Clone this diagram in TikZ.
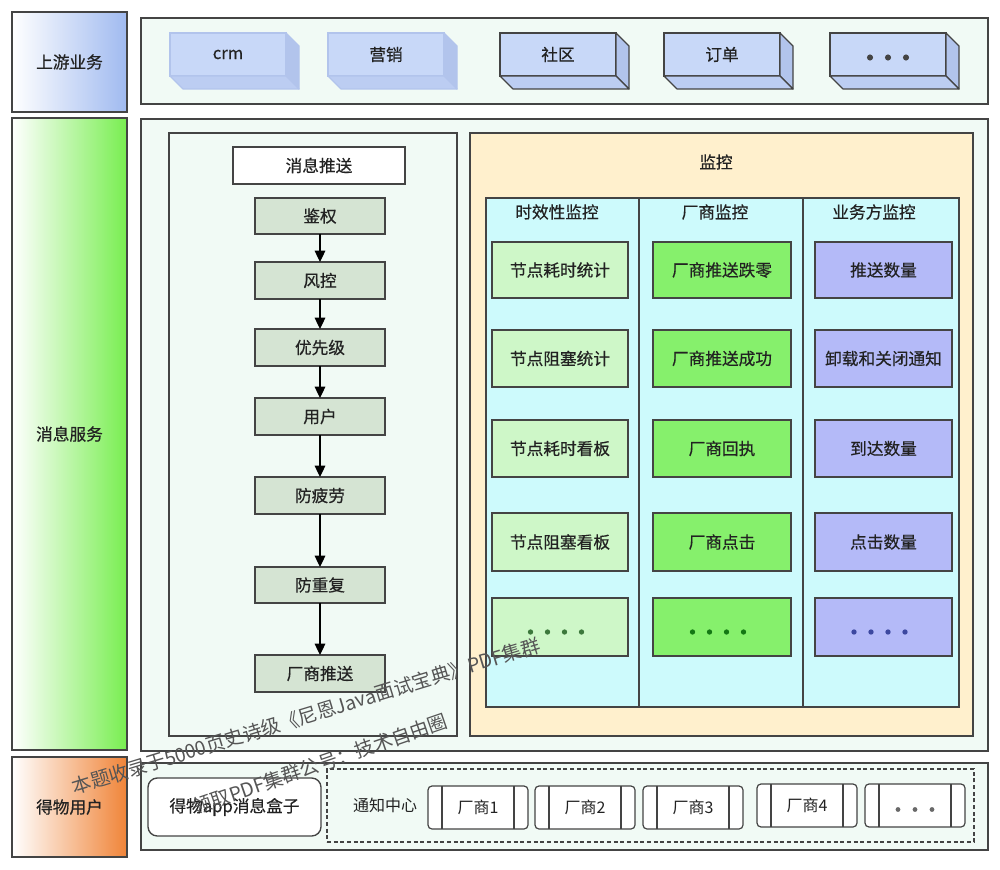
\documentclass[tikz,border=0pt]{standalone}
\usepackage{fontspec}
\setmainfont{Noto Sans CJK SC}
\newfontfamily\medf{Noto Sans CJK SC}[FakeBold=0.5]
\usetikzlibrary{arrows.meta,calc}
\definecolor{mint}{RGB}{241,250,245}
\definecolor{bline}{RGB}{68,68,68}
\definecolor{txt}{RGB}{34,34,34}
\definecolor{stepfill}{RGB}{213,228,211}
\definecolor{cream}{RGB}{255,240,205}
\definecolor{cyanf}{RGB}{205,250,252}
\definecolor{cA}{RGB}{206,247,200}
\definecolor{cB}{RGB}{134,240,108}
\definecolor{cC}{RGB}{180,186,248}
\definecolor{dA}{RGB}{60,120,60}
\definecolor{dB}{RGB}{20,120,20}
\definecolor{dC}{RGB}{60,72,160}
\definecolor{cubef}{RGB}{200,216,248}
\definecolor{cubes}{RGB}{178,196,236}
\definecolor{cubeb}{RGB}{188,205,242}
\definecolor{upblue}{RGB}{160,186,240}
\definecolor{svgreen}{RGB}{120,238,80}
\definecolor{usorange}{RGB}{240,132,56}
\definecolor{wm}{RGB}{85,85,85}
\tikzset{
  fbox/.style={inner sep=0pt, outer sep=0pt, text=txt, font=\medf\fontsize{12.5}{14}\selectfont},
  lbl/.style={fbox, draw=bline, line width=1.1pt},
  cont/.style={fbox, draw=bline, line width=1pt, fill=mint},
  stepbox/.style={fbox, draw=bline, line width=1pt, fill=stepfill},
  mbox/.style={fbox, draw=bline, line width=1pt},
  cubebox/.style={fbox, fill=cubef},
  vend/.style={fbox, draw=bline, line width=0.9pt, fill=white, rounded corners=3pt, font=\fontsize{12}{13}\selectfont},
  arr/.style={draw=black, line width=0.9pt, -{Triangle[length=8.5pt,width=8pt]}},
  wmark/.style={text=wm, font=\fontsize{14.5}{15}\selectfont, inner sep=0pt}
}
% style, name, x1, y1, x2, y2, text
\newcommand\rbox[7]{%
  \node[#1, minimum width={(#5-#3)*0.75pt}, minimum height={(#6-#4)*0.75pt}] (#2) at ({(#3+#5)/2},{(#4+#6)/2}) {#7};}
\newcommand\mkcube[4]{%
  \rbox{cubebox, draw=#4, line width=0.9pt}{#1}{#2}{33}{#2+116}{76}{#3}
  \filldraw[fill=cubes, draw=#4, line width=0.9pt, line join=round] (#1.north east) -- ++(13,13) -- ++(0,43) -- ++(-13,-13) -- cycle;
  \filldraw[fill=cubeb, draw=#4, line width=0.9pt, line join=round] (#1.south west) -- (#1.south east) -- ++(13,13) -- ++(-116,0) -- cycle;
}
\newcommand\mkvend[4]{%
  \rbox{vend}{#1}{#2}{#3}{#2+100}{#3+43}{#4}
  \draw[bline, line width=0.9pt] ($(#1.north west)+(14,0)$) -- ($(#1.south west)+(14,0)$);
  \draw[bline, line width=0.9pt] ($(#1.north east)+(-14,0)$) -- ($(#1.south east)+(-14,0)$);
}
\begin{document}
\begin{tikzpicture}[x=0.75pt,y=-0.75pt]
\useasboundingbox[fill=white] (0,0) rectangle (1000,870);

% left labels
\rbox{lbl, left color=white, right color=upblue}{up}{12}{12}{127}{112}{上游业务}
\rbox{lbl, left color=white, right color=svgreen}{sv}{12}{118}{127}{750}{消息服务}
\rbox{lbl, left color=white, right color=usorange}{us}{12}{757}{127}{857}{得物用户}

% upstream container
\rbox{cont}{topc}{141}{18}{988}{104}{}
\mkcube{crm}{170}{crm}{cubes}
\mkcube{yx}{328}{营销}{cubes}
\mkcube{sq}{500}{社区}{bline}
\mkcube{dd}{664}{订单}{bline}
\mkcube{more}{830}{}{bline}
\foreach \i in {-1,0,1} \fill[bline] ($(more.center)+(\i*18,3)$) circle[radius=2.3pt];

% message service container
\rbox{cont}{mainc}{141}{119}{988}{751}{}
\rbox{cont}{pushc}{169}{133}{457}{736}{}
\rbox{mbox, fill=white}{push}{233}{147}{405}{184}{消息推送}
\rbox{stepbox}{s1}{255}{198}{385}{234}{鉴权}
\rbox{stepbox}{s2}{255}{262}{385}{299}{风控}
\rbox{stepbox}{s3}{255}{329}{385}{366}{优先级}
\rbox{stepbox}{s4}{255}{398}{385}{435}{用户}
\rbox{stepbox}{s5}{255}{477}{385}{514}{防疲劳}
\rbox{stepbox}{s6}{255}{567}{385}{603}{防重复}
\rbox{stepbox}{s7}{255}{655}{385}{692}{厂商推送}
\draw[arr] (s1) -- (s2);
\draw[arr] (s2) -- (s3);
\draw[arr] (s3) -- (s4);
\draw[arr] (s4) -- (s5);
\draw[arr] (s5) -- (s6);
\draw[arr] (s6) -- (s7);

% monitor
\rbox{mbox, fill=cream}{mon}{470}{133}{973}{736}{}
\node[fbox] (montitle) at (716,162) {监控};
\rbox{mbox, fill=cyanf}{cy}{486}{198}{959}{707}{}
\draw[bline, line width=1pt] (639,198) -- (639,707);
\draw[bline, line width=1pt] (803,198) -- (803,707);
\node[fbox] (h1) at (557,212) {时效性监控};
\node[fbox] (h2) at (715,212) {厂商监控};
\node[fbox] (h3) at (874,212) {业务方监控};

\rbox{mbox, fill=cA}{a1}{492}{242}{628}{298}{节点耗时统计}
\rbox{mbox, fill=cA}{a2}{492}{330}{628}{387}{节点阻塞统计}
\rbox{mbox, fill=cA}{a3}{492}{420}{628}{477}{节点耗时看板}
\rbox{mbox, fill=cA}{a4}{492}{513}{628}{571}{节点阻塞看板}
\rbox{mbox, fill=cA}{a5}{492}{598}{628}{656}{}
\rbox{mbox, fill=cB}{b1}{653}{242}{791}{298}{厂商推送跌零}
\rbox{mbox, fill=cB}{b2}{653}{330}{791}{387}{厂商推送成功}
\rbox{mbox, fill=cB}{b3}{653}{420}{791}{477}{厂商回执}
\rbox{mbox, fill=cB}{b4}{653}{513}{791}{571}{厂商点击}
\rbox{mbox, fill=cB}{b5}{653}{598}{791}{656}{}
\rbox{mbox, fill=cC}{c1}{815}{242}{952}{298}{推送数量}
\rbox{mbox, fill=cC}{c2}{815}{330}{952}{387}{卸载和关闭通知}
\rbox{mbox, fill=cC}{c3}{815}{420}{952}{477}{到达数量}
\rbox{mbox, fill=cC}{c4}{815}{513}{952}{571}{点击数量}
\rbox{mbox, fill=cC}{c5}{815}{598}{952}{656}{}
\foreach \i in {-1.5,-0.5,0.5,1.5} {
  \fill[dA] ($(a5.center)+(\i*17-4,5)$) circle[radius=2pt];
  \fill[dB] ($(b5.center)+(\i*17-4,5)$) circle[radius=2pt];
  \fill[dC] ($(c5.center)+(\i*17-4,5)$) circle[radius=2pt];
}

% users container
\rbox{cont}{botc}{141}{763}{988}{850}{}
\rbox{mbox, fill=white, rounded corners=7pt}{box}{148}{778}{321}{836}{得物app消息盒子}
\rbox{fbox, draw=bline, line width=0.9pt, dash pattern=on 3pt off 2pt}{nc}{327}{769}{974}{842}{}
\node[fbox, font=\fontsize{12}{13}\selectfont] (nct) at (385,805) {通知中心};
\mkvend{v1}{428}{786}{厂商1}
\mkvend{v2}{535}{786}{厂商2}
\mkvend{v3}{643}{786}{厂商3}
\mkvend{v4}{757}{784}{厂商4}
\mkvend{v5}{865}{784}{}
\foreach \i in {-1,0,1} \fill[bline!80] ($(v5.center)+(\i*17,4)$) circle[radius=1.8pt];

% watermark
\node[wmark, rotate=17] (wm1) at (306,716) {本题收录于5000页史诗级《尼恩Java面试宝典》PDF集群};
\node[wmark, rotate=19] (wm2) at (320,764) {领取PDF集群公号：技术自由圈};
\end{tikzpicture}
\end{document}
